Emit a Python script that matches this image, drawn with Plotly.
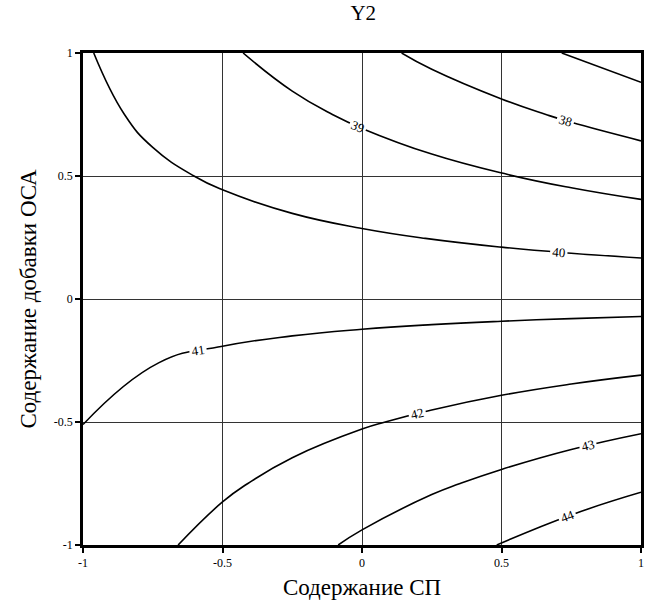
import plotly.graph_objects as go

# Grid coordinates (coded factor levels)
x_levels = [-1.0, -0.75, -0.5, -0.25, 0.0, 0.25, 0.5, 0.75, 1.0]   # Содержание СП
y_levels = [-1.0, -0.75, -0.5, -0.25, 0.0, 0.25, 0.5, 0.75, 1.0]   # Содержание добавки ОСА

# Y2 response values (rows = y, cols = x)
y2_row_m100 = [41.40, 41.84, 42.28, 42.71, 43.15, 43.59, 44.03, 44.46, 44.90]
y2_row_m075 = [41.23, 41.55, 41.88, 42.21, 42.54, 42.87, 43.19, 43.52, 43.85]
y2_row_m050 = [40.99, 41.27, 41.49, 41.71, 41.93, 42.14, 42.36, 42.58, 42.80]
y2_row_m025 = [40.86, 40.98, 41.09, 41.20, 41.31, 41.42, 41.53, 41.64, 41.75]
y2_row_000  = [40.70, 40.70, 40.70, 40.70, 40.70, 40.70, 40.70, 40.70, 40.70]
y2_row_p025 = [40.55, 40.42, 40.31, 40.20, 40.09, 39.98, 39.87, 39.76, 39.65]
y2_row_p050 = [40.38, 40.13, 39.91, 39.69, 39.48, 39.26, 39.04, 38.82, 38.60]
y2_row_p075 = [40.22, 39.85, 39.52, 39.19, 38.86, 38.53, 38.21, 37.88, 37.55]
y2_row_p100 = [40.08, 39.56, 39.13, 38.69, 38.25, 37.81, 37.38, 36.94, 36.50]

z = [y2_row_m100, y2_row_m075, y2_row_m050, y2_row_m025, y2_row_000,
     y2_row_p025, y2_row_p050, y2_row_p075, y2_row_p100]

tick_vals = [-1, -0.5, 0, 0.5, 1]
tick_text = ["-1", "-0.5", "0", "0.5", "1"]

serif = "Liberation Serif, Times New Roman, serif"

fig = go.Figure(go.Contour(
    x=x_levels, y=y_levels, z=z,
    contours=dict(start=37, end=44, size=1, coloring="lines",
                  showlabels=True,
                  labelfont=dict(family=serif, size=13, color="black")),
    colorscale=[[0, "black"], [1, "black"]],
    showscale=False,
    line=dict(width=1.6, smoothing=1.3),
    hoverinfo="skip",
))

axis_common = dict(
    range=[-1, 1], tickvals=tick_vals, ticktext=tick_text,
    showgrid=True, gridcolor="#333333", gridwidth=1,
    zeroline=False, showline=True, linecolor="black", linewidth=2.5,
    mirror=True, ticks="outside", ticklen=5, tickwidth=2, tickcolor="black",
    tickfont=dict(family=serif, size=12, color="black"),
    automargin=False, ticklabeloverflow="allow",
)

fig.update_layout(
    width=648, height=609,
    margin=dict(l=83, r=7, t=53, b=64, autoexpand=False),
    paper_bgcolor="white", plot_bgcolor="white",
    title=dict(text="Y2", x=0.5606, xanchor="center", y=0.992, yanchor="top",
               font=dict(family=serif, size=21, color="black")),
    xaxis=dict(axis_common,
               title=dict(text="Содержание СП", standoff=10,
                          font=dict(family=serif, size=23, color="black"))),
    yaxis=dict(axis_common,
               title=dict(text="Содержание добавки ОСА", standoff=11,
                          font=dict(family=serif, size=23, color="black"))),
    showlegend=False,
)

fig.write_html("out.html",
               config={"displayModeBar": False},
               post_script="document.body.style.margin='0';"
                           "document.body.style.overflow='hidden';")
